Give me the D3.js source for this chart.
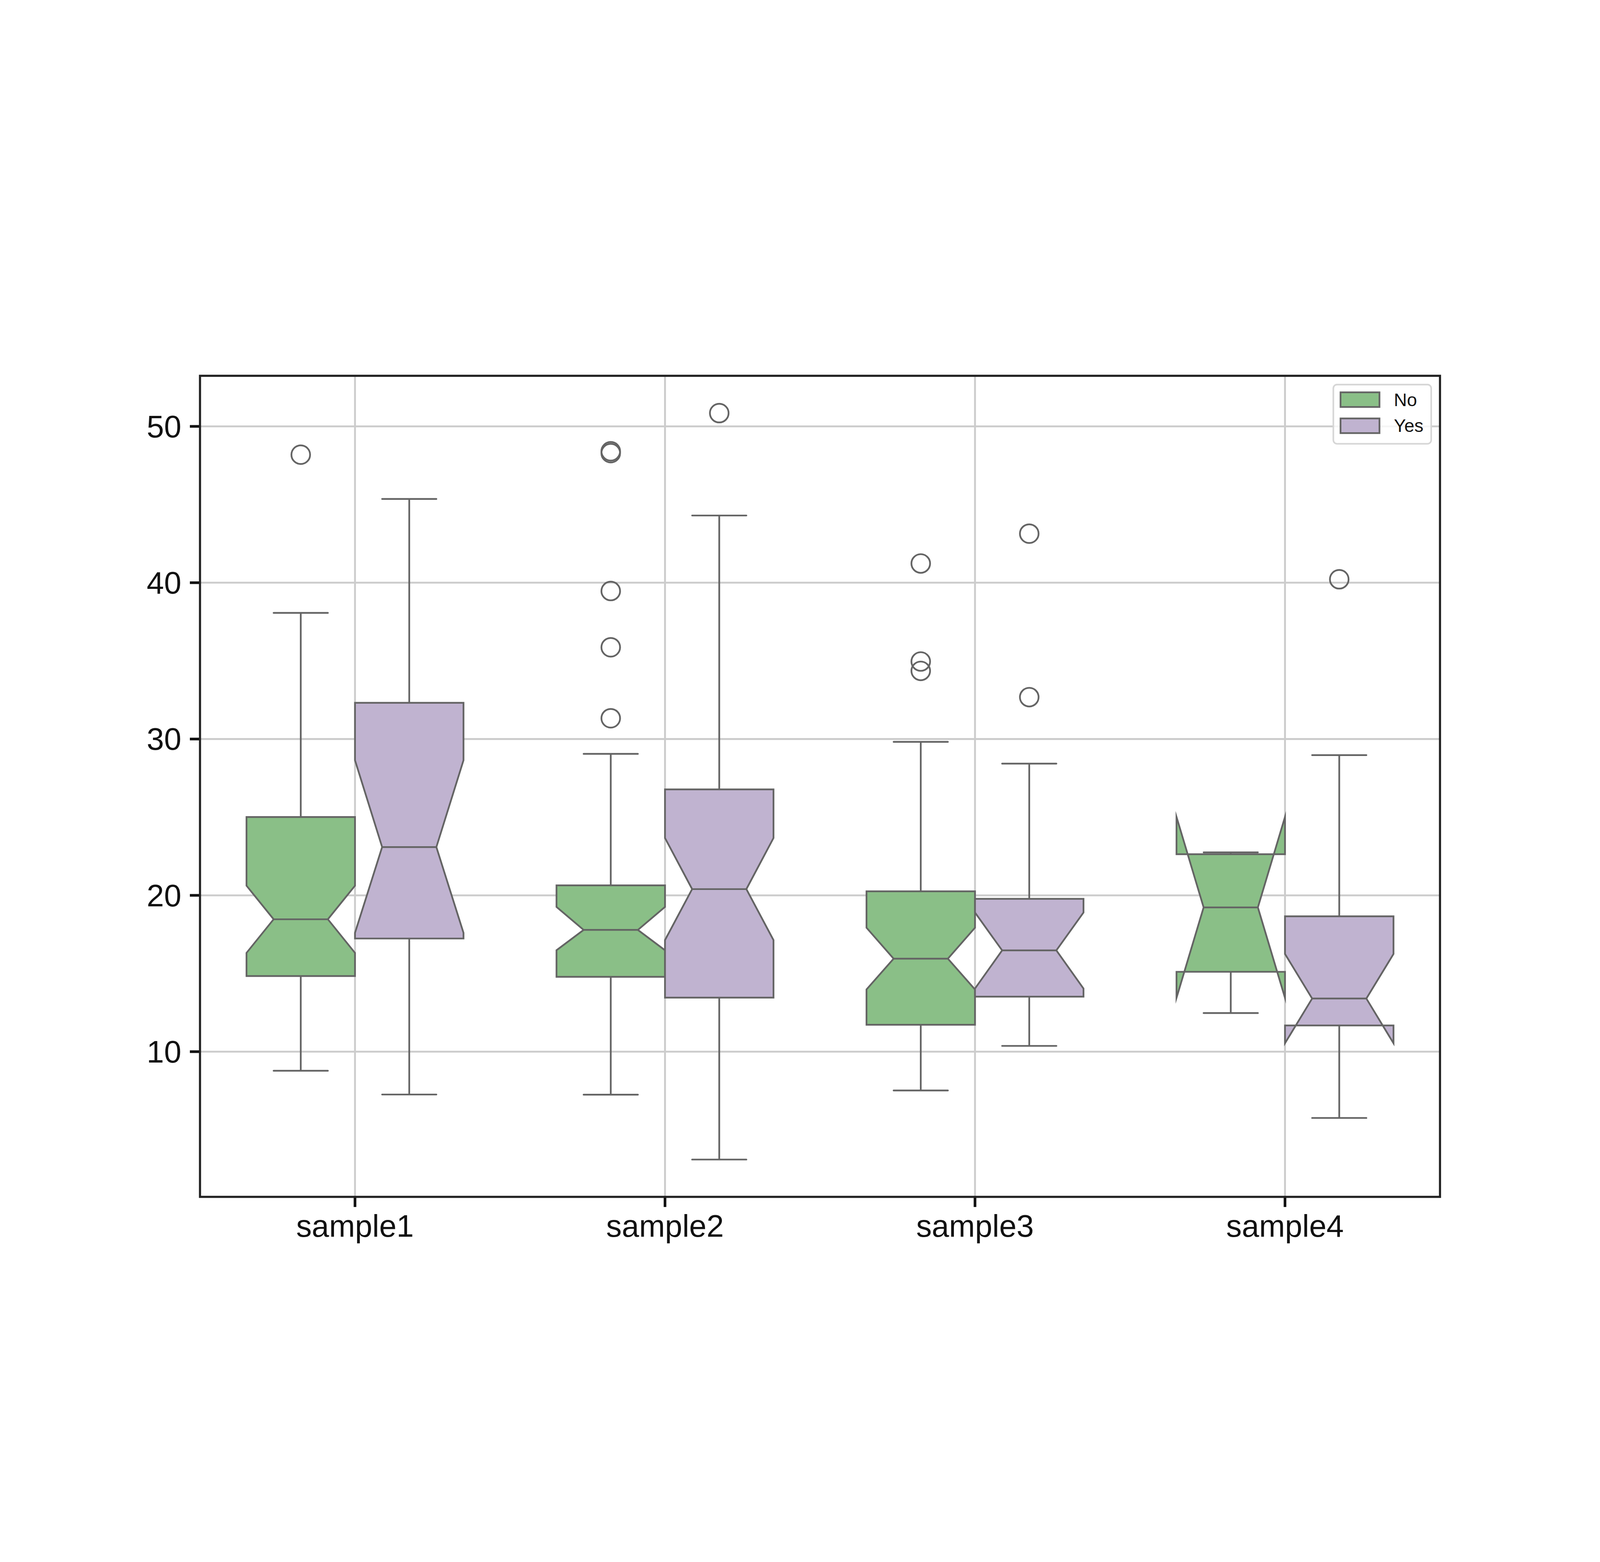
<!DOCTYPE html>
<html>
<head>
<meta charset="utf-8">
<script src="https://cdn.jsdelivr.net/npm/d3@7"></script>
<style>
  html, body { margin: 0; padding: 0; background: #fff; overflow: hidden; }
  #chart svg { display: block; width: 100vw; height: 100vh; }
  text { font-family: Arial, "Liberation Sans", Helvetica, sans-serif; }
</style>
</head>
<body>
<div id="chart"></div>
<script>
// Categories and hue groups
var categories = ["sample1", "sample2", "sample3", "sample4"];
var groups = ["No", "Yes"];
var groupColors = ["#8abf87", "#c0b3d0"];
var yTicks = [10, 20, 30, 40, 50];

// Box stats, one value per category (order of `categories`)
var noWhiskerLow = [8.77, 7.24, 7.51, 12.46];
var noQ1 = [14.83, 14.78, 11.71, 15.10];
var noNotchLow = [16.31, 16.48, 13.97, 13.43];
var noMedian = [18.46, 17.78, 15.94, 19.22];
var noNotchHigh = [20.61, 19.25, 17.92, 25.01];
var noQ3 = [25.0, 20.63, 20.25, 22.62];
var noWhiskerHigh = [38.06, 29.04, 29.81, 22.74];
var noOutliers = [[48.18], [48.40, 48.28, 39.46, 35.86, 31.32], [41.22, 34.95, 34.35], []];

var yesWhiskerLow = [7.25, 3.09, 10.36, 5.75];
var yesQ1 = [17.23, 13.45, 13.51, 11.67];
var yesNotchLow = [17.59, 17.13, 14.03, 10.53];
var yesMedian = [23.08, 20.39, 16.47, 13.39];
var yesNotchHigh = [28.63, 23.66, 18.89, 16.24];
var yesQ3 = [32.31, 26.77, 19.77, 18.65];
var yesWhiskerHigh = [45.35, 44.29, 28.42, 28.96];
var yesOutliers = [[], [50.84], [43.13, 32.67], [40.21]];

// Build box records
var boxes = [];
categories.forEach(function (c, i) {
  boxes.push({ cat: c, group: "No", lo: noWhiskerLow[i], q1: noQ1[i], nlo: noNotchLow[i], med: noMedian[i],
    nhi: noNotchHigh[i], q3: noQ3[i], hi: noWhiskerHigh[i], fliers: noOutliers[i] });
  boxes.push({ cat: c, group: "Yes", lo: yesWhiskerLow[i], q1: yesQ1[i], nlo: yesNotchLow[i], med: yesMedian[i],
    nhi: yesNotchHigh[i], q3: yesQ3[i], hi: yesWhiskerHigh[i], fliers: yesOutliers[i] });
});

var width = 6000, height = 4000;
var margins = { top: 480, right: 600, bottom: 440, left: 750 };
var chartWidth = width - margins.left - margins.right;
var chartHeight = height - margins.top - margins.bottom;
var lineColor = "#646464";
var lw = 6.5;

// y domain like matplotlib autoscale with 5% margins
var allVals = [];
boxes.forEach(function (b) { allVals.push(b.lo, b.hi); allVals = allVals.concat(b.fliers); });
var vMin = d3.min(allVals), vMax = d3.max(allVals), pad = (vMax - vMin) * 0.05;

var xScale = d3.scaleBand().domain(categories).range([0, chartWidth]).padding(0);
var dodgeWidth = xScale.bandwidth() * 0.7;
var hueScale = d3.scaleBand().domain(groups).range([-dodgeWidth / 2, dodgeWidth / 2]).padding(0);
var boxWidth = hueScale.bandwidth();
var yScale = d3.scaleLinear().domain([vMin - pad, vMax + pad]).range([chartHeight, 0]);
var colorScale = d3.scaleOrdinal().domain(groups).range(groupColors);

var svg = d3.select("#chart").append("svg")
  .attr("viewBox", "0 0 " + width + " " + height)
  .attr("preserveAspectRatio", "xMidYMid meet");
svg.append("rect").attr("width", width).attr("height", height).attr("fill", "#fff");

var chart = svg.append("g").attr("transform", "translate(" + margins.left + "," + margins.top + ")");

// Grid
chart.append("g").attr("class", "y grid")
  .call(d3.axisLeft(yScale).tickValues(yTicks).tickSize(-chartWidth).tickFormat(""))
  .call(function (g) { g.select(".domain").remove(); })
  .selectAll("line").attr("stroke", "#cccccc").attr("stroke-width", 7);

chart.append("g").attr("class", "x grid")
  .call(d3.axisTop(xScale).tickSize(-chartHeight).tickFormat(""))
  .call(function (g) { g.select(".domain").remove(); })
  .selectAll("line").attr("stroke", "#cccccc").attr("stroke-width", 7);

function center(d) { return xScale(d.cat) + xScale.bandwidth() / 2 + hueScale(d.group) + boxWidth / 2; }

var boxG = chart.selectAll(".box").data(boxes).enter().append("g").attr("class", "box");

// notched box outline (matplotlib style)
var line = d3.line().x(function (p) { return p[0]; }).y(function (p) { return yScale(p[1]); });
boxG.append("path")
  .attr("d", function (d) {
    var cx = center(d), hw = boxWidth / 2, l = cx - hw, r = cx + hw, nl = cx - hw / 2, nr = cx + hw / 2;
    return line([[l, d.q1], [r, d.q1], [r, d.nlo], [nr, d.med], [r, d.nhi], [r, d.q3],
      [l, d.q3], [l, d.nhi], [nl, d.med], [l, d.nlo], [l, d.q1]]) + "Z";
  })
  .attr("fill", function (d) { return colorScale(d.group); })
  .attr("stroke", lineColor).attr("stroke-width", lw)
  .attr("stroke-linejoin", "miter").attr("stroke-miterlimit", 20);

// whiskers
boxG.selectAll(".whisker").data(function (d) { return [[d, d.lo, d.q1], [d, d.q3, d.hi]]; })
  .enter().append("line")
  .attr("x1", function (w) { return center(w[0]); }).attr("x2", function (w) { return center(w[0]); })
  .attr("y1", function (w) { return yScale(w[1]); }).attr("y2", function (w) { return yScale(w[2]); })
  .attr("stroke", lineColor).attr("stroke-width", lw);

// caps
boxG.selectAll(".cap").data(function (d) { return [[d, d.lo], [d, d.hi]]; })
  .enter().append("line")
  .attr("x1", function (c) { return center(c[0]) - boxWidth / 4; })
  .attr("x2", function (c) { return center(c[0]) + boxWidth / 4; })
  .attr("y1", function (c) { return yScale(c[1]); }).attr("y2", function (c) { return yScale(c[1]); })
  .attr("stroke", lineColor).attr("stroke-width", lw).attr("stroke-linecap", "round");

// medians
boxG.append("line")
  .attr("x1", function (d) { return center(d) - boxWidth / 4; })
  .attr("x2", function (d) { return center(d) + boxWidth / 4; })
  .attr("y1", function (d) { return yScale(d.med); }).attr("y2", function (d) { return yScale(d.med); })
  .attr("stroke", lineColor).attr("stroke-width", lw);

// outliers
boxG.selectAll("circle").data(function (d) { return d.fliers.map(function (v) { return [d, v]; }); })
  .enter().append("circle")
  .attr("cx", function (f) { return center(f[0]); })
  .attr("cy", function (f) { return yScale(f[1]); })
  .attr("r", 35)
  .attr("fill", "none").attr("stroke", lineColor).attr("stroke-width", lw);

// Axes
var yAxis = chart.append("g").attr("class", "y axis")
  .call(d3.axisLeft(yScale).tickValues(yTicks).tickSize(38).tickPadding(32));
yAxis.select(".domain").remove();
yAxis.selectAll("line").attr("stroke", "#111").attr("stroke-width", 10);
yAxis.selectAll("text").attr("font-size", 116.7).attr("fill", "#111").attr("dy", "0.35em");

var xAxis = chart.append("g").attr("class", "x axis")
  .attr("transform", "translate(0," + chartHeight + ")")
  .call(d3.axisBottom(xScale).tickSize(38).tickPadding(29));
xAxis.select(".domain").remove();
xAxis.selectAll("line").attr("stroke", "#111").attr("stroke-width", 10);
xAxis.selectAll("text").attr("font-size", 116.7).attr("fill", "#111").attr("dy", "0.71em");

// Spines
chart.append("rect").attr("x", 0).attr("y", 0).attr("width", chartWidth).attr("height", chartHeight)
  .attr("fill", "none").attr("stroke", "#222").attr("stroke-width", 8);

// Legend
var legend = chart.append("g").attr("class", "legend")
  .attr("transform", "translate(" + (chartWidth - 400) + ",33)");
legend.append("rect").attr("x", 0).attr("y", 0).attr("width", 367).attr("height", 222).attr("rx", 14)
  .attr("fill", "#fff").attr("fill-opacity", 0.8).attr("stroke", "#d6d6d6").attr("stroke-width", 6);
var items = legend.selectAll(".key-item").data(groups).enter().append("g")
  .attr("class", "key-item")
  .attr("transform", function (d, i) { return "translate(27," + (29 + i * 98) + ")"; });
items.append("rect").attr("width", 146).attr("height", 55)
  .attr("fill", function (d) { return colorScale(d); })
  .attr("stroke", lineColor).attr("stroke-width", lw);
items.append("text").attr("x", 200).attr("y", 51).attr("font-size", 68).attr("fill", "#111")
  .text(function (d) { return d; });
</script>
</body>
</html>
